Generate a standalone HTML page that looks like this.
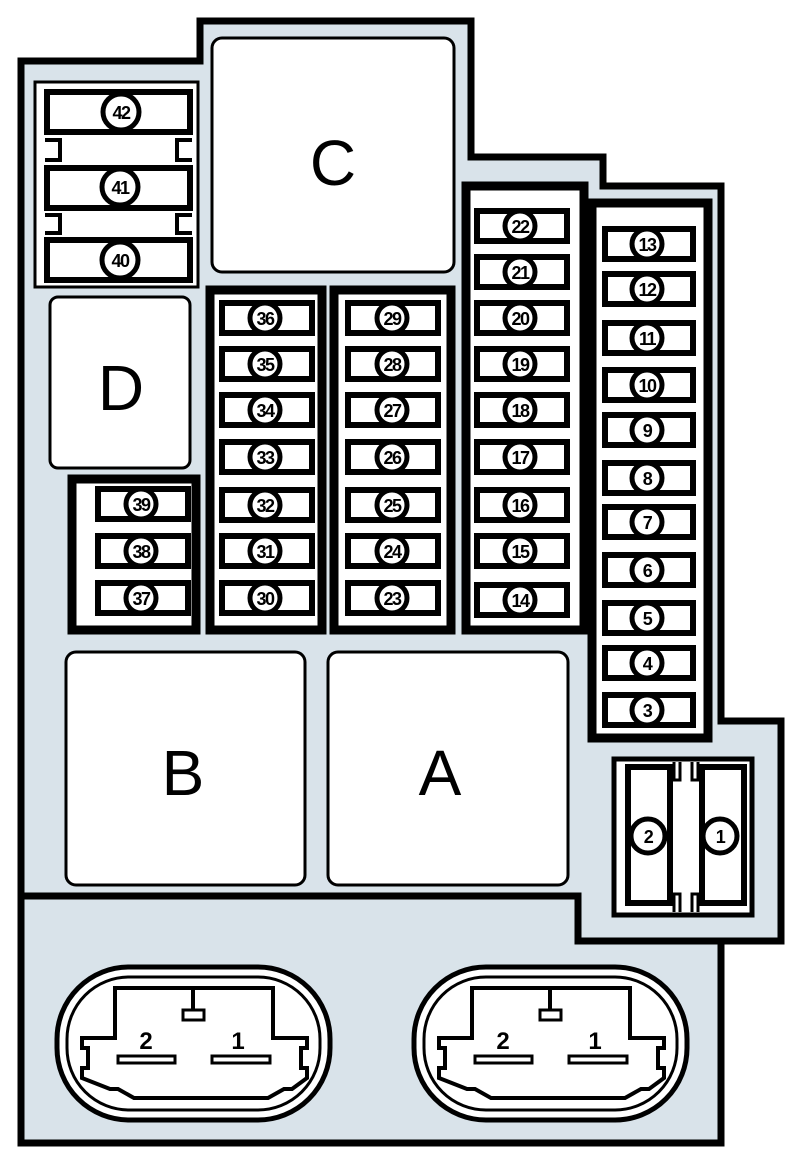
<!DOCTYPE html>
<html><head><meta charset="utf-8"><style>
html,body{margin:0;padding:0;background:#fff;}
svg{display:block;}
text{font-family:"Liberation Sans",sans-serif;}
.n{font-weight:bold;font-size:18px;text-anchor:middle;dominant-baseline:central;letter-spacing:-1.5px;}
.f{fill:#fff;stroke:#000;stroke-width:6;}
.c{fill:#fff;stroke:#000;stroke-width:5;}
.box{fill:#fff;stroke:#000;stroke-width:9;}
.rl{fill:#fff;stroke:#000;stroke-width:3;}
.big{font-size:64px;text-anchor:middle;dominant-baseline:central;}
.st{fill:none;stroke:#000;stroke-width:4;}
</style></head><body>
<svg width="788" height="1153" viewBox="0 0 788 1153" xmlns="http://www.w3.org/2000/svg">
<path d="M21,61 H200 V21 H471 V157 H603 V186 H721 V721 H781 V941 H578 V896 H21 Z" fill="#d9e3ea" stroke="#000" stroke-width="7"/>
<path d="M21,896 H578 V941 H721 V1143 H21 Z" fill="#d9e3ea" stroke="#000" stroke-width="7"/>

<rect x="212" y="38" width="242" height="234" rx="10" class="rl"/>
<text x="333" y="163" class="big">C</text>
<rect x="50" y="297" width="140" height="171" rx="8" class="rl"/>
<text x="121" y="388" class="big">D</text>
<rect x="66" y="652" width="239" height="233" rx="10" class="rl"/>
<text x="183" y="773" class="big">B</text>
<rect x="328" y="652" width="240" height="233" rx="10" class="rl"/>
<text x="440" y="773" class="big">A</text>

<rect x="35" y="82" width="163" height="205" fill="#fff" stroke="#000" stroke-width="3"/>
<path d="M45,140 H60 V160 H45 M192,140 H177 V160 H192 M45,215 H60 V233 H45 M192,215 H177 V233 H192" class="st"/>
<rect x="47" y="92" width="143" height="40" class="f"/><circle cx="121" cy="112" r="18" class="c"/><text x="121" y="113" class="n" font-size="20">42</text>
<rect x="47" y="168" width="143" height="40" class="f"/><circle cx="120" cy="187" r="18" class="c"/><text x="120" y="188" class="n" font-size="20">41</text>
<rect x="47" y="240" width="143" height="40" class="f"/><circle cx="120" cy="260" r="18" class="c"/><text x="120" y="261" class="n" font-size="20">40</text>

<rect x="72" y="479" width="124" height="151" class="box"/>
<rect x="98" y="489" width="90" height="30" class="f"/><circle cx="141" cy="504" r="15" class="c"/><text x="141" y="505" class="n">39</text>
<rect x="98" y="536" width="90" height="30" class="f"/><circle cx="141" cy="551" r="15" class="c"/><text x="141" y="552" class="n">38</text>
<rect x="98" y="583" width="90" height="30" class="f"/><circle cx="141" cy="598" r="15" class="c"/><text x="141" y="599" class="n">37</text>

<rect x="210" y="290" width="112" height="340" class="box"/>
<rect x="222" y="303" width="90" height="30" class="f"/><circle cx="265" cy="318" r="15" class="c"/><text x="265" y="319" class="n">36</text>
<rect x="222" y="349" width="90" height="30" class="f"/><circle cx="265" cy="364" r="15" class="c"/><text x="265" y="365" class="n">35</text>
<rect x="222" y="395" width="90" height="30" class="f"/><circle cx="265" cy="410" r="15" class="c"/><text x="265" y="411" class="n">34</text>
<rect x="222" y="442" width="90" height="30" class="f"/><circle cx="265" cy="457" r="15" class="c"/><text x="265" y="458" class="n">33</text>
<rect x="222" y="490" width="90" height="30" class="f"/><circle cx="265" cy="505" r="15" class="c"/><text x="265" y="506" class="n">32</text>
<rect x="222" y="536" width="90" height="30" class="f"/><circle cx="265" cy="551" r="15" class="c"/><text x="265" y="552" class="n">31</text>
<rect x="222" y="583" width="90" height="30" class="f"/><circle cx="265" cy="598" r="15" class="c"/><text x="265" y="599" class="n">30</text>

<rect x="334" y="290" width="117" height="340" class="box"/>
<rect x="348" y="303" width="90" height="30" class="f"/><circle cx="392" cy="318" r="15" class="c"/><text x="392" y="319" class="n">29</text>
<rect x="348" y="349" width="90" height="30" class="f"/><circle cx="392" cy="364" r="15" class="c"/><text x="392" y="365" class="n">28</text>
<rect x="348" y="395" width="90" height="30" class="f"/><circle cx="392" cy="410" r="15" class="c"/><text x="392" y="411" class="n">27</text>
<rect x="348" y="442" width="90" height="30" class="f"/><circle cx="392" cy="457" r="15" class="c"/><text x="392" y="458" class="n">26</text>
<rect x="348" y="490" width="90" height="30" class="f"/><circle cx="392" cy="505" r="15" class="c"/><text x="392" y="506" class="n">25</text>
<rect x="348" y="536" width="90" height="30" class="f"/><circle cx="392" cy="551" r="15" class="c"/><text x="392" y="552" class="n">24</text>
<rect x="348" y="583" width="90" height="30" class="f"/><circle cx="392" cy="598" r="15" class="c"/><text x="392" y="599" class="n">23</text>

<rect x="466" y="186" width="118" height="444" class="box"/>
<rect x="477" y="211" width="90" height="30" class="f"/><circle cx="520" cy="226" r="15" class="c"/><text x="520" y="227" class="n">22</text>
<rect x="477" y="257" width="90" height="30" class="f"/><circle cx="520" cy="272" r="15" class="c"/><text x="520" y="273" class="n">21</text>
<rect x="477" y="303" width="90" height="30" class="f"/><circle cx="520" cy="318" r="15" class="c"/><text x="520" y="319" class="n">20</text>
<rect x="477" y="349" width="90" height="30" class="f"/><circle cx="520" cy="364" r="15" class="c"/><text x="520" y="365" class="n">19</text>
<rect x="477" y="395" width="90" height="30" class="f"/><circle cx="520" cy="410" r="15" class="c"/><text x="520" y="411" class="n">18</text>
<rect x="477" y="442" width="90" height="30" class="f"/><circle cx="520" cy="457" r="15" class="c"/><text x="520" y="458" class="n">17</text>
<rect x="477" y="490" width="90" height="30" class="f"/><circle cx="520" cy="505" r="15" class="c"/><text x="520" y="506" class="n">16</text>
<rect x="477" y="536" width="90" height="30" class="f"/><circle cx="520" cy="551" r="15" class="c"/><text x="520" y="552" class="n">15</text>
<rect x="477" y="585" width="90" height="30" class="f"/><circle cx="520" cy="600" r="15" class="c"/><text x="520" y="601" class="n">14</text>

<rect x="592" y="203" width="116" height="535" class="box"/>
<rect x="605" y="229" width="88" height="30" class="f"/><circle cx="647" cy="244" r="15" class="c"/><text x="647" y="245" class="n">13</text>
<rect x="605" y="274" width="88" height="30" class="f"/><circle cx="647" cy="289" r="15" class="c"/><text x="647" y="290" class="n">12</text>
<rect x="605" y="323" width="88" height="30" class="f"/><circle cx="647" cy="338" r="15" class="c"/><text x="647" y="339" class="n">11</text>
<rect x="605" y="370" width="88" height="30" class="f"/><circle cx="647" cy="385" r="15" class="c"/><text x="647" y="386" class="n">10</text>
<rect x="605" y="415" width="88" height="30" class="f"/><circle cx="647" cy="430" r="15" class="c"/><text x="647" y="431" class="n">9</text>
<rect x="605" y="463" width="88" height="30" class="f"/><circle cx="647" cy="478" r="15" class="c"/><text x="647" y="479" class="n">8</text>
<rect x="605" y="507" width="88" height="30" class="f"/><circle cx="647" cy="522" r="15" class="c"/><text x="647" y="523" class="n">7</text>
<rect x="605" y="555" width="88" height="30" class="f"/><circle cx="647" cy="570" r="15" class="c"/><text x="647" y="571" class="n">6</text>
<rect x="605" y="603" width="88" height="30" class="f"/><circle cx="647" cy="618" r="15" class="c"/><text x="647" y="619" class="n">5</text>
<rect x="605" y="648" width="88" height="30" class="f"/><circle cx="647" cy="663" r="15" class="c"/><text x="647" y="664" class="n">4</text>
<rect x="605" y="695" width="88" height="30" class="f"/><circle cx="647" cy="710" r="15" class="c"/><text x="647" y="711" class="n">3</text>

<rect x="614" y="759" width="138" height="156" fill="#fff" stroke="#000" stroke-width="5"/>
<path d="M674,762 V780 H680 V762 M692,762 V780 H698 V762 M674,912 V894 H680 V912 M692,912 V894 H698 V912" fill="none" stroke="#000" stroke-width="3"/>
<rect x="628" y="767" width="42" height="136" class="f"/>
<rect x="702" y="767" width="42" height="136" class="f"/>
<circle cx="648" cy="836" r="17" class="c"/><text x="648" y="837" class="n" font-size="22">2</text>
<circle cx="720" cy="836" r="17" class="c"/><text x="720" y="837" class="n" font-size="22">1</text>

<g id="conn">
<rect x="57" y="967" width="273" height="153" rx="72" fill="#fff" stroke="#000" stroke-width="5"/>
<rect x="67" y="977" width="253" height="133" rx="62" fill="#fff" stroke="#000" stroke-width="3"/>
<path d="M115,988 H273 V1038 H307 V1048 H301 V1068 H307 V1078 L292,1089 H284 L268,1098 H134 L118,1089 H110 L82,1078 V1068 H88 V1048 H82 V1038 H115 Z" fill="#fff" stroke="#000" stroke-width="4"/>
<line x1="193" y1="988" x2="193" y2="1010" stroke="#000" stroke-width="4"/>
<rect x="183" y="1010" width="21" height="10" fill="#fff" stroke="#000" stroke-width="3"/>
<rect x="118" y="1056" width="57" height="7" fill="#fff" stroke="#000" stroke-width="3"/>
<rect x="212" y="1056" width="58" height="7" fill="#fff" stroke="#000" stroke-width="3"/>
<text x="146" y="1049" font-size="24" font-weight="bold" text-anchor="middle">2</text>
<text x="238" y="1049" font-size="24" font-weight="bold" text-anchor="middle">1</text>
</g>
<use href="#conn" transform="translate(357,0)"/>
</svg>
</body></html>
